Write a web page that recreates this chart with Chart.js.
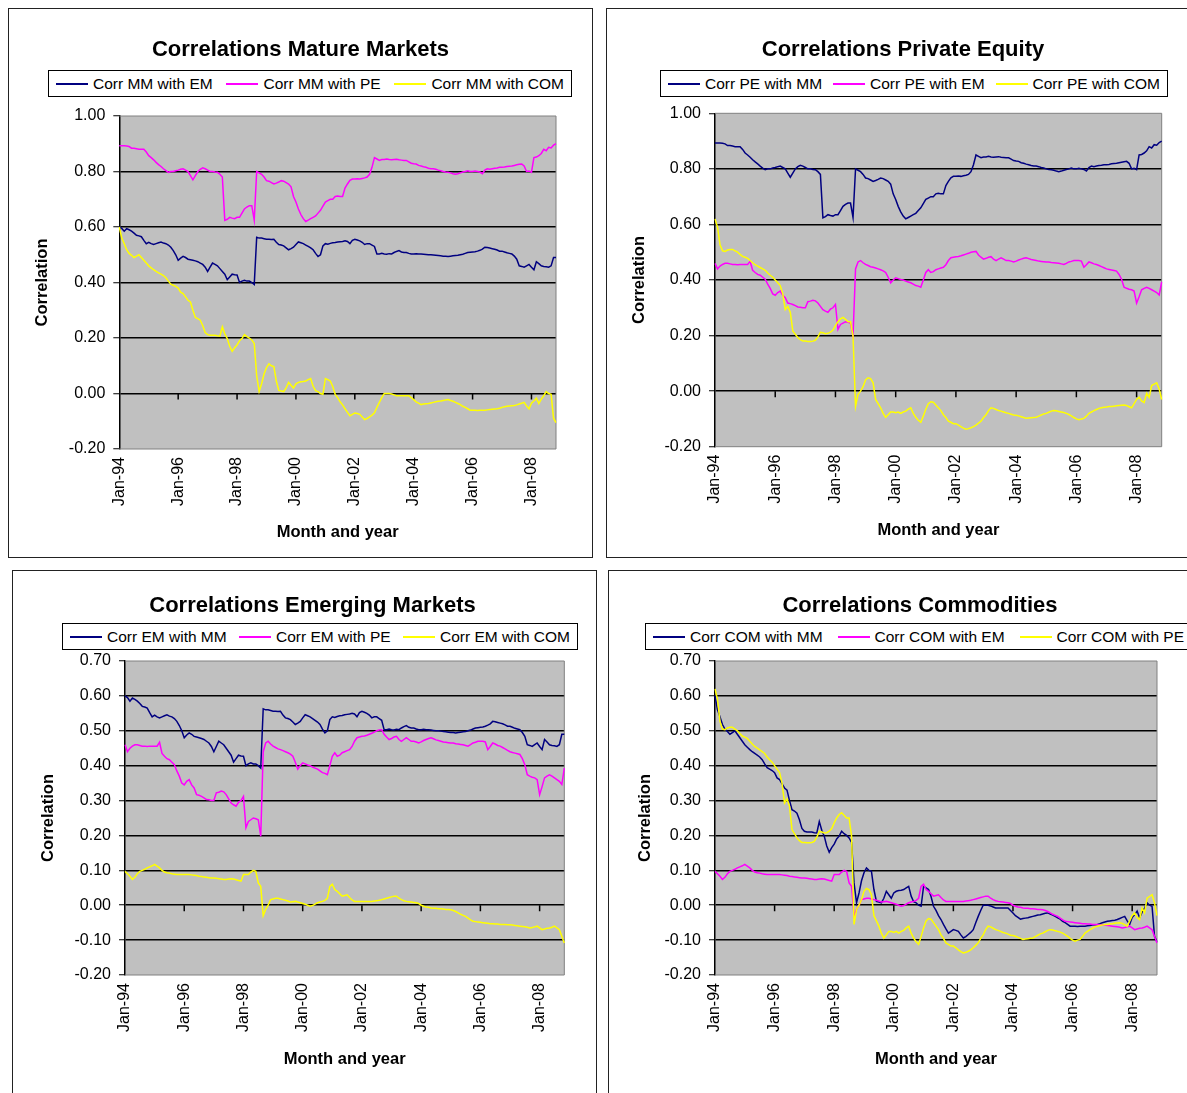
<!DOCTYPE html>
<html>
<head>
<meta charset="utf-8">
<title>Correlations</title>
<script src="https://cdn.jsdelivr.net/npm/chart.js@4.4.1/dist/chart.umd.min.js"></script>
<style>
  html, body { margin: 0; padding: 0; background: #fff; }
  body { width: 1187px; height: 1093px; overflow: hidden; position: relative; font-family: "Liberation Sans", Arial, sans-serif; color: #000; }
  .panel { position: absolute; border: 1px solid #222; background: #fff; box-sizing: border-box; }
  .panel canvas { position: absolute; left: 0; top: 0; }
  .title { position: absolute; transform: translateX(-50%); white-space: nowrap; font-weight: bold; font-size: 22px; line-height: 26px; }
  .legend { position: absolute; box-sizing: border-box; border: 1px solid #000; background: #fff; height: 27px; display: flex; justify-content: space-between; align-items: center; padding: 0 7px; font-size: 15.5px; white-space: nowrap; }
  .legend .item { display: flex; align-items: center; }
  .legend i { display: inline-block; width: 32px; height: 2px; margin-right: 5px; }
</style>
</head>
<body>
<script>
// monthly rolling correlations, Jan-94 .. Nov-08 (one row per year)
const mmEm = [
  0.600, 0.595, 0.585, 0.594, 0.590, 0.585, 0.578, 0.570, 0.568, 0.565, 0.552, 0.540,
  0.545, 0.540, 0.537, 0.540, 0.543, 0.546, 0.542, 0.540, 0.535, 0.527, 0.515, 0.500,
  0.480, 0.488, 0.494, 0.490, 0.484, 0.482, 0.480, 0.478, 0.475, 0.470, 0.465, 0.455,
  0.440, 0.455, 0.470, 0.465, 0.460, 0.450, 0.440, 0.430, 0.410, 0.420, 0.430, 0.428,
  0.427, 0.400, 0.405, 0.408, 0.405, 0.405, 0.400, 0.393, 0.563, 0.560, 0.560, 0.558,
  0.556, 0.556, 0.555, 0.556, 0.545, 0.537, 0.535, 0.532, 0.525, 0.518, 0.522, 0.527,
  0.537, 0.546, 0.543, 0.540, 0.535, 0.530, 0.525, 0.518, 0.505, 0.494, 0.500, 0.532,
  0.540, 0.538, 0.541, 0.543, 0.544, 0.546, 0.547, 0.548, 0.550, 0.548, 0.540, 0.552,
  0.556, 0.553, 0.550, 0.545, 0.537, 0.540, 0.540, 0.535, 0.530, 0.503, 0.503, 0.505,
  0.503, 0.502, 0.504, 0.503, 0.508, 0.512, 0.515, 0.510, 0.508, 0.508, 0.505, 0.503,
  0.503, 0.504, 0.503, 0.503, 0.502, 0.501, 0.500, 0.500, 0.499, 0.498, 0.497, 0.496,
  0.495, 0.495, 0.494, 0.495, 0.496, 0.497, 0.498, 0.500, 0.502, 0.505, 0.508, 0.509,
  0.510, 0.511, 0.513, 0.516, 0.520, 0.527, 0.526, 0.524, 0.522, 0.520, 0.517, 0.513,
  0.513, 0.510, 0.507, 0.505, 0.503, 0.495, 0.484, 0.460, 0.458, 0.455, 0.460, 0.465,
  0.455, 0.446, 0.475, 0.468, 0.460, 0.458, 0.457, 0.455, 0.460, 0.490, 0.490
];
const mmPe = [
  0.893, 0.893, 0.893, 0.892, 0.890, 0.884, 0.884, 0.882, 0.880, 0.880, 0.880, 0.870,
  0.857, 0.850, 0.842, 0.833, 0.825, 0.818, 0.810, 0.803, 0.797, 0.800, 0.800, 0.803,
  0.805, 0.808, 0.810, 0.805, 0.800, 0.785, 0.770, 0.785, 0.800, 0.808, 0.813, 0.810,
  0.805, 0.800, 0.800, 0.798, 0.797, 0.790, 0.780, 0.624, 0.628, 0.635, 0.632, 0.630,
  0.635, 0.635, 0.650, 0.665, 0.672, 0.677, 0.677, 0.625, 0.800, 0.795, 0.790, 0.780,
  0.767, 0.765, 0.760, 0.755, 0.758, 0.762, 0.767, 0.765, 0.760, 0.755, 0.745, 0.710,
  0.690, 0.665, 0.645, 0.630, 0.620, 0.625, 0.630, 0.635, 0.640, 0.650, 0.660, 0.675,
  0.690, 0.695, 0.700, 0.700, 0.710, 0.712, 0.710, 0.710, 0.740, 0.755, 0.768, 0.773,
  0.773, 0.774, 0.773, 0.775, 0.777, 0.780, 0.790, 0.815, 0.850, 0.845, 0.840, 0.843,
  0.843, 0.845, 0.843, 0.842, 0.843, 0.844, 0.842, 0.841, 0.840, 0.840, 0.835, 0.830,
  0.828, 0.827, 0.822, 0.820, 0.817, 0.815, 0.812, 0.810, 0.810, 0.808, 0.805, 0.803,
  0.800, 0.798, 0.797, 0.795, 0.792, 0.790, 0.792, 0.795, 0.798, 0.800, 0.803, 0.800,
  0.800, 0.802, 0.800, 0.798, 0.792, 0.805, 0.810, 0.808, 0.810, 0.812, 0.813, 0.815,
  0.815, 0.816, 0.818, 0.819, 0.820, 0.822, 0.824, 0.826, 0.827, 0.820, 0.800, 0.802,
  0.797, 0.850, 0.852, 0.857, 0.865, 0.880, 0.875, 0.887, 0.885, 0.895, 0.900
];
const mmCom = [
  0.600, 0.560, 0.540, 0.518, 0.505, 0.498, 0.490, 0.495, 0.500, 0.490, 0.480, 0.470,
  0.460, 0.453, 0.446, 0.440, 0.435, 0.430, 0.425, 0.417, 0.405, 0.394, 0.390, 0.386,
  0.380, 0.365, 0.360, 0.348, 0.336, 0.330, 0.300, 0.274, 0.270, 0.264, 0.245, 0.220,
  0.212, 0.210, 0.210, 0.210, 0.208, 0.207, 0.240, 0.215, 0.198, 0.170, 0.152, 0.165,
  0.175, 0.190, 0.198, 0.212, 0.205, 0.200, 0.193, 0.180, 0.064, 0.007, 0.035, 0.070,
  0.093, 0.107, 0.100, 0.097, 0.045, 0.011, 0.009, 0.007, 0.020, 0.040, 0.030, 0.020,
  0.035, 0.040, 0.042, 0.043, 0.045, 0.050, 0.054, 0.026, 0.010, 0.007, 0.000, -0.003,
  0.054, 0.050, 0.045, 0.025, -0.003, -0.015, -0.030, -0.041, -0.055, -0.068, -0.080, -0.075,
  -0.070, -0.072, -0.075, -0.085, -0.094, -0.090, -0.084, -0.078, -0.070, -0.050, -0.032, -0.015,
  0.000, 0.000, 0.000, -0.002, -0.005, -0.008, -0.008, -0.008, -0.008, -0.008, -0.008, -0.015,
  -0.022, -0.030, -0.035, -0.040, -0.038, -0.037, -0.036, -0.034, -0.032, -0.030, -0.028, -0.027,
  -0.025, -0.023, -0.022, -0.025, -0.028, -0.032, -0.036, -0.040, -0.046, -0.050, -0.055, -0.060,
  -0.060, -0.060, -0.061, -0.060, -0.060, -0.060, -0.059, -0.058, -0.057, -0.056, -0.055, -0.053,
  -0.050, -0.048, -0.046, -0.045, -0.044, -0.043, -0.041, -0.038, -0.035, -0.032, -0.045, -0.055,
  -0.035, -0.027, -0.017, -0.036, -0.020, -0.008, 0.007, 0.000, -0.003, -0.089, -0.105
];
const peEm = [
  0.460, 0.440, 0.450, 0.456, 0.460, 0.460, 0.458, 0.456, 0.456, 0.455, 0.456, 0.456,
  0.456, 0.456, 0.467, 0.435, 0.427, 0.420, 0.417, 0.410, 0.403, 0.385, 0.370, 0.350,
  0.345, 0.355, 0.360, 0.345, 0.336, 0.317, 0.315, 0.312, 0.308, 0.303, 0.302, 0.300,
  0.300, 0.322, 0.324, 0.327, 0.325, 0.317, 0.305, 0.293, 0.288, 0.284, 0.295, 0.300,
  0.312, 0.222, 0.240, 0.245, 0.250, 0.248, 0.245, 0.198, 0.440, 0.465, 0.470, 0.462,
  0.456, 0.452, 0.448, 0.446, 0.443, 0.440, 0.437, 0.433, 0.427, 0.410, 0.390, 0.400,
  0.408, 0.405, 0.402, 0.400, 0.396, 0.393, 0.390, 0.385, 0.380, 0.378, 0.374, 0.400,
  0.427, 0.437, 0.427, 0.430, 0.437, 0.440, 0.443, 0.446, 0.455, 0.470, 0.480, 0.482,
  0.484, 0.485, 0.487, 0.490, 0.493, 0.496, 0.500, 0.502, 0.503, 0.490, 0.482, 0.475,
  0.478, 0.482, 0.484, 0.475, 0.470, 0.475, 0.480, 0.475, 0.470, 0.470, 0.468, 0.465,
  0.468, 0.472, 0.475, 0.478, 0.480, 0.477, 0.474, 0.472, 0.470, 0.468, 0.467, 0.466,
  0.465, 0.465, 0.463, 0.462, 0.461, 0.460, 0.458, 0.456, 0.460, 0.465, 0.467, 0.470,
  0.470, 0.470, 0.468, 0.446, 0.455, 0.465, 0.462, 0.458, 0.456, 0.452, 0.448, 0.444,
  0.440, 0.438, 0.436, 0.434, 0.432, 0.420, 0.403, 0.374, 0.370, 0.367, 0.365, 0.360,
  0.317, 0.340, 0.365, 0.370, 0.374, 0.370, 0.365, 0.360, 0.355, 0.346, 0.393
];
const peCom = [
  0.620, 0.590, 0.527, 0.505, 0.503, 0.508, 0.510, 0.510, 0.505, 0.500, 0.492, 0.485,
  0.482, 0.478, 0.470, 0.462, 0.455, 0.450, 0.445, 0.440, 0.435, 0.425, 0.417, 0.410,
  0.400, 0.390, 0.380, 0.350, 0.293, 0.305, 0.284, 0.217, 0.205, 0.193, 0.185, 0.180,
  0.180, 0.179, 0.179, 0.180, 0.183, 0.195, 0.212, 0.210, 0.207, 0.208, 0.212, 0.220,
  0.236, 0.250, 0.260, 0.265, 0.258, 0.250, 0.250, 0.198, -0.055, -0.012, 0.000, 0.016,
  0.040, 0.048, 0.045, 0.030, -0.030, -0.045, -0.060, -0.080, -0.094, -0.085, -0.075, -0.075,
  -0.078, -0.075, -0.080, -0.075, -0.072, -0.065, -0.060, -0.080, -0.094, -0.105, -0.112, -0.090,
  -0.065, -0.045, -0.038, -0.040, -0.050, -0.060, -0.070, -0.085, -0.095, -0.108, -0.112, -0.117,
  -0.117, -0.122, -0.128, -0.133, -0.137, -0.135, -0.132, -0.128, -0.122, -0.115, -0.108, -0.095,
  -0.085, -0.070, -0.060, -0.062, -0.066, -0.070, -0.072, -0.075, -0.078, -0.080, -0.083, -0.086,
  -0.087, -0.089, -0.092, -0.095, -0.098, -0.097, -0.096, -0.095, -0.094, -0.090, -0.086, -0.082,
  -0.080, -0.076, -0.072, -0.070, -0.071, -0.073, -0.075, -0.077, -0.080, -0.084, -0.089, -0.095,
  -0.100, -0.103, -0.100, -0.098, -0.090, -0.080, -0.075, -0.070, -0.066, -0.062, -0.060, -0.058,
  -0.057, -0.055, -0.055, -0.054, -0.053, -0.052, -0.051, -0.050, -0.052, -0.056, -0.060, -0.045,
  -0.030, -0.022, -0.035, -0.041, -0.008, -0.022, 0.020, 0.025, 0.030, 0.007, -0.030
];
const emCom = [
  0.097, 0.090, 0.083, 0.074, 0.080, 0.090, 0.097, 0.100, 0.103, 0.107, 0.110, 0.113,
  0.117, 0.112, 0.107, 0.100, 0.095, 0.093, 0.092, 0.090, 0.089, 0.088, 0.088, 0.088,
  0.088, 0.088, 0.088, 0.087, 0.086, 0.085, 0.083, 0.082, 0.081, 0.080, 0.079, 0.078,
  0.078, 0.077, 0.076, 0.075, 0.074, 0.074, 0.075, 0.076, 0.075, 0.073, 0.071, 0.069,
  0.088, 0.088, 0.088, 0.095, 0.100, 0.097, 0.064, 0.054, -0.030, -0.012, 0.000, 0.016,
  0.018, 0.020, 0.020, 0.018, 0.016, 0.014, 0.012, 0.009, 0.010, 0.011, 0.009, 0.007,
  0.005, 0.003, 0.000, -0.003, -0.001, 0.003, 0.007, 0.009, 0.011, 0.014, 0.020, 0.054,
  0.060, 0.045, 0.040, 0.033, 0.026, 0.028, 0.030, 0.022, 0.015, 0.011, 0.011, 0.011,
  0.011, 0.011, 0.011, 0.011, 0.011, 0.012, 0.013, 0.014, 0.016, 0.018, 0.020, 0.022,
  0.024, 0.026, 0.026, 0.020, 0.016, 0.013, 0.011, 0.010, 0.009, 0.008, 0.007, 0.005,
  0.000, -0.003, -0.005, -0.006, -0.008, -0.009, -0.009, -0.010, -0.010, -0.011, -0.012, -0.012,
  -0.013, -0.015, -0.018, -0.022, -0.026, -0.029, -0.032, -0.037, -0.042, -0.046, -0.047, -0.048,
  -0.049, -0.050, -0.051, -0.052, -0.053, -0.053, -0.054, -0.054, -0.055, -0.055, -0.055, -0.056,
  -0.056, -0.057, -0.058, -0.059, -0.060, -0.061, -0.062, -0.063, -0.065, -0.064, -0.062, -0.060,
  -0.065, -0.070, -0.068, -0.066, -0.065, -0.063, -0.060, -0.065, -0.070, -0.089, -0.108
];

// category labels: one per month
const monthNames = ['Jan', 'Feb', 'Mar', 'Apr', 'May', 'Jun', 'Jul', 'Aug', 'Sep', 'Oct', 'Nov', 'Dec'];
const months = [];
for (let i = 0; i < mmEm.length; i++) {
  const yr = 1994 + Math.floor(i / 12);
  months.push(monthNames[i % 12] + '-' + String(yr).slice(2));
}

const lineColors = ['#000080', '#ff00ff', '#ffff00'];

// box: outer panel rect; plot/legend/title in panel content coords
const panels = [
  { title: 'Correlations Mature Markets', box: [8, 8, 585, 550], titleAt: [291.5, 40], legendAt: [39, 61, 524],
    plot: [110.3, 107, 547, 440], yTitleX: 33, xTitleY: 523, range: [-0.2, 1.0, 0.2],
    series: [['Corr MM with EM', mmEm], ['Corr MM with PE', mmPe], ['Corr MM with COM', mmCom]] },
  { title: 'Correlations Private Equity', box: [606, 8, 585, 550], titleAt: [296, 40], legendAt: [53, 61, 508],
    plot: [108, 104.3, 554.7, 437.7], yTitleX: 32, xTitleY: 521, range: [-0.2, 1.0, 0.2],
    series: [['Corr PE with MM', mmPe], ['Corr PE with EM', peEm], ['Corr PE with COM', peCom]] },
  { title: 'Correlations Emerging Markets', box: [12, 570, 585, 535], titleAt: [299.5, 34], legendAt: [49, 52, 516],
    plot: [112, 90, 551.3, 404], yTitleX: 35, xTitleY: 488, range: [-0.2, 0.7, 0.1],
    series: [['Corr EM with MM', mmEm], ['Corr EM with PE', peEm], ['Corr EM with COM', emCom]] },
  { title: 'Correlations Commodities', box: [608, 570, 585, 535], titleAt: [311, 34], legendAt: [36, 52, 547],
    plot: [106, 90, 548, 404], yTitleX: 36, xTitleY: 488, range: [-0.2, 0.7, 0.1],
    series: [['Corr COM with MM', mmCom], ['Corr COM with EM', emCom], ['Corr COM with PE', peCom]] }
];

Chart.defaults.font.family = '"Liberation Sans", Arial, sans-serif';
Chart.defaults.color = '#000';

// grey plot background, frame and the small x ticks sitting on the zero line
const plotFrame = {
  id: 'plotFrame',
  beforeDraw(chart) {
    const { ctx, chartArea: a } = chart;
    ctx.save();
    ctx.fillStyle = '#c0c0c0';
    ctx.fillRect(a.left, a.top, a.width, a.height);
    ctx.restore();
  },
  beforeDatasetsDraw(chart) {
    const { ctx, chartArea: a, scales: { x, y } } = chart;
    ctx.save();
    ctx.strokeStyle = '#808080';
    ctx.lineWidth = 1;
    ctx.beginPath();
    ctx.moveTo(a.left, a.top); ctx.lineTo(a.right, a.top);
    ctx.lineTo(a.right, a.bottom); ctx.lineTo(a.left, a.bottom);
    ctx.stroke();
    const y0 = y.getPixelForValue(0);
    ctx.strokeStyle = '#000';
    ctx.lineWidth = 1.5;
    ctx.beginPath();
    for (let i = 24; i < months.length; i += 24) {
      const px = x.getPixelForValue(i);
      ctx.moveTo(px, y0);
      ctx.lineTo(px, y0 + 6);
    }
    ctx.stroke();
    ctx.restore();
  }
};

panels.forEach(p => {
  const [left, top, w, h] = p.box;
  const W = w - 2, H = h - 2;
  const div = document.createElement('div');
  div.className = 'panel';
  Object.assign(div.style, { left: left + 'px', top: top + 'px', width: w + 'px', height: h + 'px' });
  document.body.appendChild(div);

  const canvas = document.createElement('canvas');
  canvas.width = W;
  canvas.height = H;
  div.appendChild(canvas);

  const title = document.createElement('div');
  title.className = 'title';
  title.textContent = p.title;
  title.style.left = p.titleAt[0] + 'px';
  title.style.top = (p.titleAt[1] - 13) + 'px';
  div.appendChild(title);

  const legend = document.createElement('div');
  legend.className = 'legend';
  Object.assign(legend.style, { left: p.legendAt[0] + 'px', top: p.legendAt[1] + 'px', width: p.legendAt[2] + 'px' });
  p.series.forEach((s, k) => {
    const item = document.createElement('span');
    item.className = 'item';
    const mark = document.createElement('i');
    mark.style.background = lineColors[k];
    item.appendChild(mark);
    item.appendChild(document.createTextNode(s[0]));
    legend.appendChild(item);
  });
  div.appendChild(legend);

  const [yMin, yMax, yStep] = p.range;
  const isEdge = v => Math.abs(v - yMin) < 1e-9 || Math.abs(v - yMax) < 1e-9;

  new Chart(canvas, {
    type: 'line',
    data: {
      labels: months,
      datasets: p.series.map((s, k) => ({
        label: s[0],
        data: s[1],
        borderColor: lineColors[k],
        backgroundColor: lineColors[k],
        borderWidth: 1.5,
        pointRadius: 0,
        tension: 0,
        fill: false,
        order: 2 - k
      }))
    },
    options: {
      responsive: false,
      animation: false,
      events: [],
      layout: { padding: { left: 0, top: p.plot[1], right: W - p.plot[2], bottom: 0 } },
      plugins: { legend: { display: false }, tooltip: { enabled: false } },
      scales: {
        x: {
          grid: { display: false, drawTicks: false },
          border: { display: false },
          ticks: {
            autoSkip: false, minRotation: 90, maxRotation: 90, padding: 8,
            font: { size: 16 },
            callback: (v, i) => (i % 24 === 0 ? months[i] : null)
          },
          title: {
            display: true, text: 'Month and year',
            font: { size: 16.5, weight: 'bold' },
            padding: { top: 0, bottom: H - p.xTitleY - 9.9 }
          },
          afterFit: s => { s.height = H - p.plot[3]; }
        },
        y: {
          min: yMin, max: yMax,
          ticks: {
            stepSize: yStep, padding: 8, font: { size: 16 },
            callback: v => (Math.abs(v) < 1e-9 ? 0 : v).toFixed(2)
          },
          grid: {
            color: c => (c.tick && isEdge(c.tick.value) ? 'rgba(0,0,0,0)' : '#000'),
            lineWidth: 1.5, tickLength: 6, tickColor: '#000', tickWidth: 1
          },
          border: { color: '#000', width: 1.5 },
          title: {
            display: true, text: 'Correlation',
            font: { size: 16.5, weight: 'bold' },
            padding: { top: p.yTitleX - 9.9, bottom: 0 }
          },
          afterFit: s => { s.width = p.plot[0]; }
        }
      }
    },
    plugins: [plotFrame]
  });
});
</script>
</body>
</html>
